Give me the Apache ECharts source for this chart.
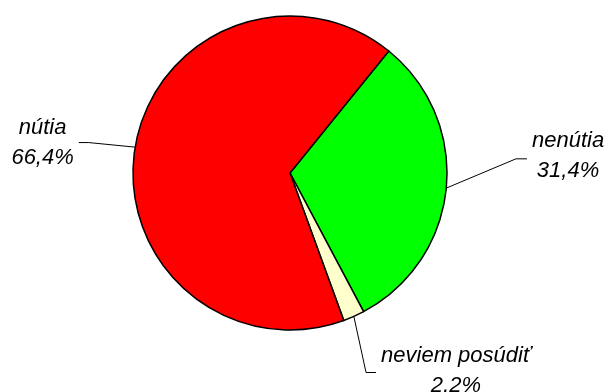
<!DOCTYPE html>
<html><head><meta charset="utf-8">
<script src="https://cdn.jsdelivr.net/npm/echarts@6/dist/echarts.min.js"></script>
<style>html,body{margin:0;padding:0;background:#fff}#c{width:605px;height:392px}</style>
</head><body><div id="c"></div>
<script>
const categories = ['nenútia', 'neviem posúdiť', 'nútia'];
const values = [31.4, 2.2, 66.4];
const colors = ['#00FF00', '#FFFFCC', '#FF0000'];
const lineLength = [70, 57, 46];
const lineLength2 = [11, 10, 10];
const lineShift = [[0, -36], [-11, 4], [-1, 3]];
const textShift = [-3, -2, 0];

const chart = echarts.init(document.getElementById('c'), null, {renderer: 'canvas'});
const FONT = '"Liberation Sans", Arial, sans-serif';
chart.setOption({
  animation: false,
  backgroundColor: '#ffffff',
  series: [{
    type: 'pie',
    center: [290, 173],
    radius: 157,
    startAngle: 51,
    clockwise: true,
    avoidLabelOverlap: false,
    emphasis: {disabled: true},
    itemStyle: {borderColor: '#000', borderWidth: 1.5},
    label: {
      show: true,
      position: 'outside',
      formatter: function (p) {
        return '{t|' + p.name + '}\n{t|' + p.value.toFixed(1).replace('.', ',') + '%}';
      },
      rich: {
        t: {fontFamily: FONT, fontStyle: 'italic', fontSize: 22, lineHeight: 30, color: '#000', align: 'center'}
      }
    },
    labelLine: {show: true, lineStyle: {color: '#000', width: 1}},
    labelLayout: function (p) {
      const i = p.dataIndex;
      const pts = p.labelLinePoints;
      if (!pts) return {};
      const s = lineShift[i];
      const np = [pts[0].slice(), [pts[1][0] + s[0], pts[1][1] + s[1]], [pts[2][0] + s[0], pts[2][1] + s[1]]];
      const left = pts[2][0] < pts[0][0];
      return {x: np[2][0] + (left ? -5 : 5), y: np[2][1] + textShift[i], labelLinePoints: np};
    },
    data: categories.map(function (c, i) {
      return {
        name: c,
        value: values[i],
        itemStyle: {color: colors[i]},
        labelLine: {length: lineLength[i], length2: lineLength2[i]}
      };
    })
  }]
});
</script></body></html>
